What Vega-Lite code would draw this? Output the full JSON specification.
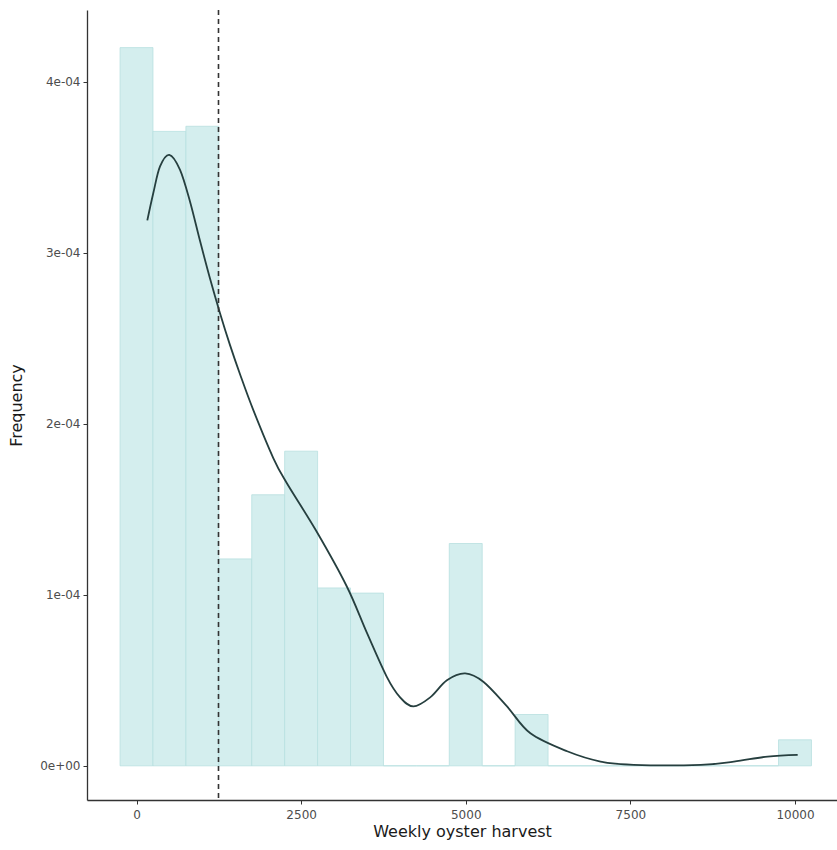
{
  "$schema": "https://vega.github.io/schema/vega-lite/v6.json",
  "width": 750,
  "height": 790,
  "autosize": "none",
  "padding": {"left": 87, "top": 10, "right": 0, "bottom": 50},
  "background": "white",
  "config": {
    "view": {"stroke": null},
    "axis": {"grid": false, "domainColor": "#333333", "domainWidth": 1.3, "tickColor": "#333333", "tickSize": 4, "labelColor": "#4d4d4d", "labelFont": "DejaVu Sans", "labelFontSize": 12, "titleFont": "DejaVu Sans", "titleFontSize": 16, "titleFontWeight": "normal", "titleColor": "#1a1a1a"}
  },
  "datasets": {
    "hist": [
      {"bin_start": -250, "bin_end": 250, "density": 0.000420},
      {"bin_start": 250, "bin_end": 750, "density": 0.000371},
      {"bin_start": 750, "bin_end": 1250, "density": 0.000374},
      {"bin_start": 1250, "bin_end": 1750, "density": 0.000121},
      {"bin_start": 1750, "bin_end": 2250, "density": 0.0001585},
      {"bin_start": 2250, "bin_end": 2750, "density": 0.000184},
      {"bin_start": 2750, "bin_end": 3250, "density": 0.000104},
      {"bin_start": 3250, "bin_end": 3750, "density": 0.000101},
      {"bin_start": 3750, "bin_end": 4250, "density": 0},
      {"bin_start": 4250, "bin_end": 4750, "density": 0},
      {"bin_start": 4750, "bin_end": 5250, "density": 0.000130},
      {"bin_start": 5250, "bin_end": 5750, "density": 0},
      {"bin_start": 5750, "bin_end": 6250, "density": 0.000030},
      {"bin_start": 6250, "bin_end": 6750, "density": 0},
      {"bin_start": 6750, "bin_end": 7250, "density": 0},
      {"bin_start": 7250, "bin_end": 7750, "density": 0},
      {"bin_start": 7750, "bin_end": 8250, "density": 0},
      {"bin_start": 8250, "bin_end": 8750, "density": 0},
      {"bin_start": 8750, "bin_end": 9250, "density": 0},
      {"bin_start": 9250, "bin_end": 9750, "density": 0},
      {"bin_start": 9750, "bin_end": 10250, "density": 0.0000152}
    ],
    "kde": [
      {"harvest": 164, "density": 0.000319},
      {"harvest": 255, "density": 0.000335},
      {"harvest": 357, "density": 0.0003505},
      {"harvest": 498, "density": 0.0003573},
      {"harvest": 661, "density": 0.0003485},
      {"harvest": 812, "density": 0.000330},
      {"harvest": 964, "density": 0.000307},
      {"harvest": 1116, "density": 0.000285},
      {"harvest": 1268, "density": 0.0002647},
      {"harvest": 1420, "density": 0.000246},
      {"harvest": 1572, "density": 0.000229},
      {"harvest": 1774, "density": 0.000208},
      {"harvest": 2077, "density": 0.000180},
      {"harvest": 2279, "density": 0.0001655},
      {"harvest": 2735, "density": 0.000137},
      {"harvest": 3192, "density": 0.000105},
      {"harvest": 3496, "density": 0.000078},
      {"harvest": 3801, "density": 0.000052},
      {"harvest": 4003, "density": 0.000040},
      {"harvest": 4206, "density": 0.0000347},
      {"harvest": 4460, "density": 0.000040},
      {"harvest": 4714, "density": 0.000050},
      {"harvest": 4992, "density": 0.000054},
      {"harvest": 5271, "density": 0.000049},
      {"harvest": 5627, "density": 0.0000347},
      {"harvest": 5982, "density": 0.000019},
      {"harvest": 6540, "density": 0.0000085},
      {"harvest": 7047, "density": 0.0000025},
      {"harvest": 7549, "density": 0.0000006},
      {"harvest": 8569, "density": 0.0000006},
      {"harvest": 9072, "density": 0.0000025},
      {"harvest": 9584, "density": 0.0000054},
      {"harvest": 10041, "density": 0.0000064}
    ],
    "meanline": [{"harvest": 1245}]
  },
  "layer": [
    {
      "data": {"name": "hist"},
      "mark": {"type": "bar", "fill": "#d4eeee", "stroke": "#b8e0e0", "strokeWidth": 0.8},
      "encoding": {
        "x": {"field": "bin_start", "type": "quantitative", "scale": {"domain": [-752, 10638], "nice": false, "zero": false},
              "axis": {"values": [0, 2500, 5000, 7500, 10000], "format": "d", "title": "Weekly oyster harvest", "labelPadding": 5, "titlePadding": 3}},
        "x2": {"field": "bin_end"},
        "y": {"field": "density", "type": "quantitative", "scale": {"domain": [-0.00002, 0.000442], "nice": false, "zero": false},
              "axis": {"values": [0, 0.0001, 0.0002, 0.0003, 0.0004], "title": "Frequency", "labelPadding": 3, "titlePadding": 15,
                       "labelExpr": "replace(replace(format(datum.value, '.0e'), 'e-', 'e-0'), 'e+', 'e+0')"}},
        "y2": {"datum": 0}
      }
    },
    {
      "data": {"name": "kde"},
      "mark": {"type": "line", "color": "#263f3f", "strokeWidth": 1.8, "interpolate": "cardinal"},
      "encoding": {
        "x": {"field": "harvest", "type": "quantitative"},
        "y": {"field": "density", "type": "quantitative"}
      }
    },
    {
      "data": {"name": "meanline"},
      "mark": {"type": "rule", "color": "#333333", "strokeWidth": 1.6, "strokeDash": [5, 4]},
      "encoding": {
        "x": {"field": "harvest", "type": "quantitative"}
      }
    }
  ]
}
